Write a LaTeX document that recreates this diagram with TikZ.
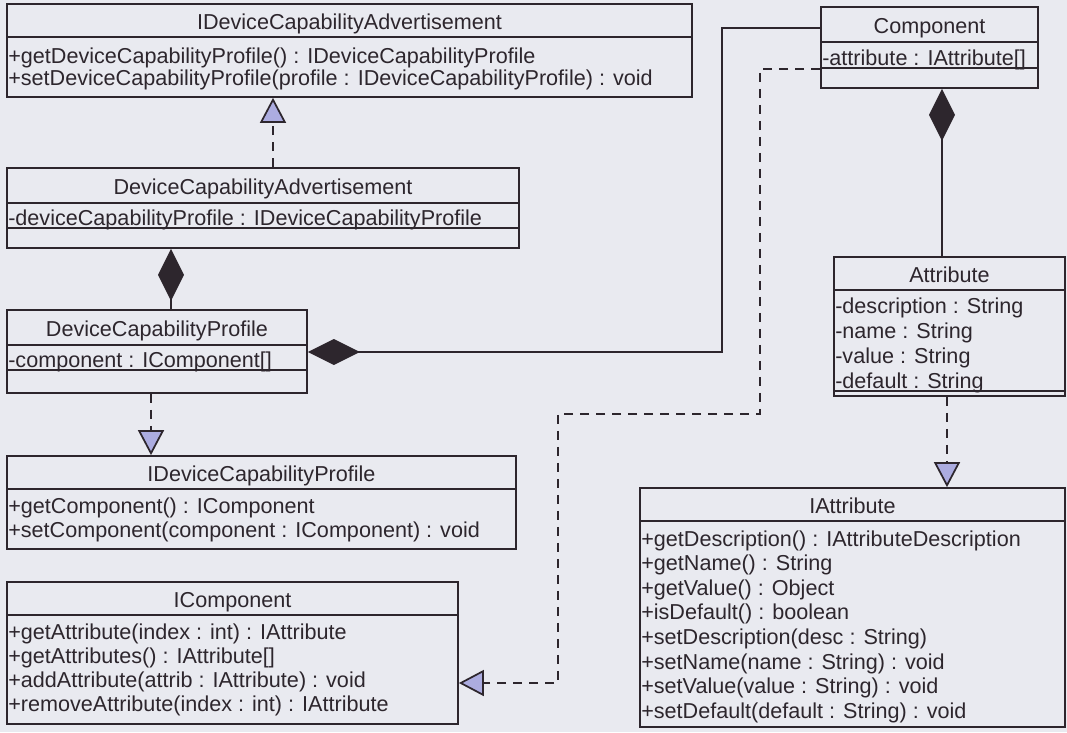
\documentclass[tikz,border=0pt]{standalone}
\usepackage{fontspec}
\setmainfont{Liberation Sans}
\usetikzlibrary{arrows.meta,fit}
\definecolor{paper}{RGB}{233,234,240}
\definecolor{ink}{RGB}{45,38,45}
\definecolor{lav}{RGB}{172,172,224}
\begin{document}
\begin{tikzpicture}[x=0.75pt,y=-0.75pt,
  umlbox/.style={draw=ink, line width=1.3pt, inner sep=0pt},
  member/.style={anchor=base west, inner sep=0pt, text=ink, font=\fontsize{16.2}{19}\selectfont},
  title/.style={anchor=base, inner sep=0pt, text=ink, font=\fontsize{16.2}{19}\selectfont},
  sep/.style={draw=ink, line width=1.3pt},
  realize/.style={draw=ink, line width=1.3pt, dash pattern=on 6.75pt off 5.25pt,
    -{Triangle[length=18.75pt,width=19.5pt,fill=lav]}},
  compose/.style={draw=ink, line width=1.3pt,
    {Diamond[length=39pt,width=19.5pt,fill=ink]}-}
]
\fill[paper] (0,0) rectangle (1067,732);
\useasboundingbox (0,0) rectangle (1067,732);

% ---------- IDeviceCapabilityAdvertisement ----------
\node[umlbox, fit={(7,4) (692,97)}] (idca) {};
\draw[sep] (7,37) -- (692,37);
\node[title] (idcaT) at (349.5,29) {IDeviceCapabilityAdvertisement};
\node[member] (idcaM1) at (8,63) {+getDeviceCapabilityProfile() : IDeviceCapabilityProfile};
\node[member] (idcaM2) at (8,85) {+setDeviceCapabilityProfile(profile : IDeviceCapabilityProfile) : void};

% ---------- DeviceCapabilityAdvertisement ----------
\node[umlbox, fit={(7,168) (519,248)}] (dca) {};
\draw[sep] (7,203) -- (519,203);
\draw[sep] (7,228) -- (519,228);
\node[title] (dcaT) at (263,194) {DeviceCapabilityAdvertisement};
\node[member] (dcaA1) at (8,225) {-deviceCapabilityProfile : IDeviceCapabilityProfile};

% ---------- DeviceCapabilityProfile ----------
\node[umlbox, fit={(7,310) (307,393)}] (dcp) {};
\draw[sep] (7,345) -- (307,345);
\draw[sep] (7,370) -- (307,370);
\node[title] (dcpT) at (157,336) {DeviceCapabilityProfile};
\node[member] (dcpA1) at (8,367) {-component : IComponent[]};

% ---------- IDeviceCapabilityProfile ----------
\node[umlbox, fit={(7,456) (516,549)}] (idcp) {};
\draw[sep] (7,489) -- (516,489);
\node[title] (idcpT) at (261.5,481) {IDeviceCapabilityProfile};
\node[member] (idcpM1) at (8,513) {+getComponent() : IComponent};
\node[member] (idcpM2) at (8,537) {+setComponent(component : IComponent) : void};

% ---------- IComponent ----------
\node[umlbox, fit={(7,582) (458,724)}] (icomp) {};
\draw[sep] (7,615) -- (458,615);
\node[title] (icompT) at (232.5,607) {IComponent};
\node[member] (icompM1) at (8,639) {+getAttribute(index : int) : IAttribute};
\node[member] (icompM2) at (8,663) {+getAttributes() : IAttribute[]};
\node[member] (icompM3) at (8,687) {+addAttribute(attrib : IAttribute) : void};
\node[member] (icompM4) at (8,711) {+removeAttribute(index : int) : IAttribute};

% ---------- Component ----------
\node[umlbox, fit={(821,7) (1038,88)}] (comp) {};
\draw[sep] (821,42) -- (1038,42);
\draw[sep] (821,68) -- (1038,68);
\node[title] (compT) at (929.5,33) {Component};
\node[member] (compA1) at (822,65) {-attribute : IAttribute[]};

% ---------- Attribute ----------
\node[umlbox, fit={(834,257) (1065,396)}] (attr) {};
\draw[sep] (834,290) -- (1065,290);
\draw[sep] (834,391) -- (1065,391);
\node[title] (attrT) at (949.5,282) {Attribute};
\node[member] (attrA1) at (835,313) {-description : String};
\node[member] (attrA2) at (835,338) {-name : String};
\node[member] (attrA3) at (835,363) {-value : String};
\node[member] (attrA4) at (835,388) {-default : String};

% ---------- IAttribute ----------
\node[umlbox, fit={(640,488) (1065,727)}] (iattr) {};
\draw[sep] (640,521) -- (1065,521);
\node[title] (iattrT) at (852.5,513) {IAttribute};
\node[member] (iattrM1) at (641,546) {+getDescription() : IAttributeDescription};
\node[member] (iattrM2) at (641,570.6) {+getName() : String};
\node[member] (iattrM3) at (641,595.2) {+getValue() : Object};
\node[member] (iattrM4) at (641,619.8) {+isDefault() : boolean};
\node[member] (iattrM5) at (641,644.4) {+setDescription(desc : String)};
\node[member] (iattrM6) at (641,669) {+setName(name : String) : void};
\node[member] (iattrM7) at (641,693.6) {+setValue(value : String) : void};
\node[member] (iattrM8) at (641,718.2) {+setDefault(default : String) : void};

% ---------- connector guide coordinates ----------
\coordinate (xa) at (273,0);
\coordinate (xb) at (171,0);
\coordinate (xc) at (942,0);
\coordinate (xd) at (947,0);
\coordinate (xe) at (151,0);
\coordinate (bendA) at (722,352);
\coordinate (bendB) at (722,28);
\coordinate (d1) at (760,69);
\coordinate (d2) at (760,414);
\coordinate (d3) at (558,414);
\coordinate (d4) at (558,683);

% ---------- realizations ----------
\draw[realize] (dca.north -| xa) -- (idca.south -| xa);
\draw[realize] (dcp.south -| xe) -- (idcp.north -| xe);
\draw[realize] (attr.south -| xd) -- (iattr.north -| xd);
\draw[realize] (comp.west |- d1) -- (d1) -- (d2) -- (d3) -- (d4) -- (icomp.east |- d4);

% ---------- compositions ----------
\draw[compose] (dca.south -| xb) -- (dcp.north -| xb);
\draw[compose] (comp.south -| xc) -- (attr.north -| xc);
\draw[compose] (dcp.east |- bendA) -- (bendA) -- (bendB) -- (comp.west |- bendB);
\end{tikzpicture}
\end{document}
